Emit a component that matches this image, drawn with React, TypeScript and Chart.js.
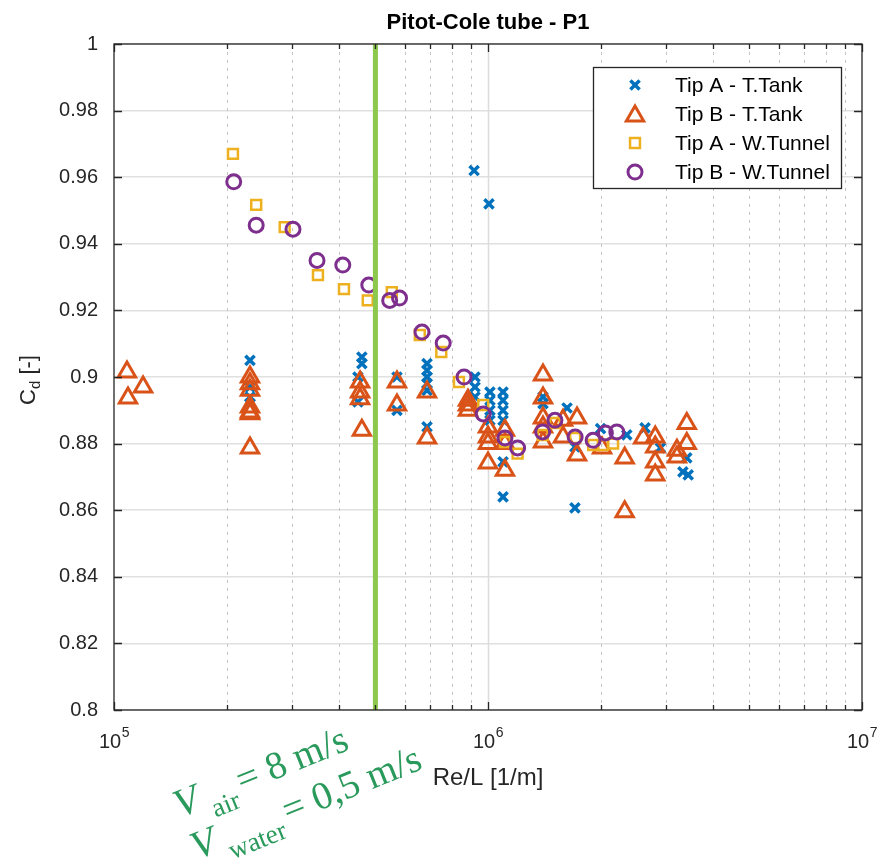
import React, { useEffect, useRef } from 'react';
import { Chart, registerables } from 'chart.js';

Chart.register(...registerables);

// ---------------- data ----------------
const tipATankRe = [
  2.31e5, 2.31e5, 2.31e5, 2.31e5,
  4.6e5, 4.6e5, 4.49e5, 4.49e5,
  5.71e5, 5.71e5,
  6.87e5, 6.87e5, 6.87e5, 6.87e5, 6.87e5, 6.87e5,
  9.18e5, 1.006e6,
  9.23e5, 9.23e5, 9.23e5,
  1.012e6, 1.012e6, 1.012e6, 1.012e6,
  1.097e6, 1.097e6, 1.097e6, 1.097e6, 1.097e6, 1.097e6,
  1.403e6, 1.403e6, 1.627e6, 1.708e6, 1.708e6,
  2.0e6, 2.35e6, 2.63e6, 2.89e6, 3.32e6, 3.43e6, 3.4e6,
];
const tipATankCd = [
  0.905, 0.897, 0.894, 0.892,
  0.906, 0.904, 0.9, 0.8925,
  0.9, 0.89,
  0.904, 0.902, 0.9, 0.898, 0.896, 0.885,
  0.962, 0.952,
  0.9, 0.897, 0.894,
  0.8955, 0.893, 0.89, 0.887,
  0.8955, 0.893, 0.89, 0.887, 0.8745, 0.864,
  0.894, 0.892, 0.8907, 0.879, 0.8607,
  0.8845, 0.8826, 0.8847, 0.8787, 0.8715, 0.8706, 0.8757,
];

const tipBTankRe = [
  1.083e5, 1.09e5, 1.196e5,
  2.31e5, 2.31e5, 2.31e5, 2.31e5, 2.31e5, 2.31e5, 2.31e5,
  4.55e5, 4.55e5, 4.55e5, 4.6e5,
  5.71e5, 5.71e5,
  6.87e5, 6.87e5,
  8.84e5, 8.84e5, 8.84e5,
  1.0e6, 1.0e6, 1.0e6, 1.0e6,
  1.11e6, 1.11e6, 1.11e6,
  1.403e6, 1.403e6, 1.403e6, 1.403e6, 1.403e6,
  1.587e6, 1.587e6, 1.73e6, 1.73e6,
  2.018e6, 2.32e6, 2.32e6, 2.6e6,
  2.8e6, 2.8e6, 2.8e6, 2.8e6,
  3.2e6, 3.2e6, 3.4e6, 3.4e6,
];
const tipBTankCd = [
  0.9015, 0.8937, 0.897,
  0.9, 0.898, 0.896, 0.891, 0.8895, 0.889, 0.8787,
  0.8985, 0.8955, 0.8935, 0.884,
  0.8985, 0.8916,
  0.8955, 0.8817,
  0.8916, 0.893, 0.89,
  0.885, 0.882, 0.88, 0.8742,
  0.884, 0.88, 0.872,
  0.9006, 0.8937, 0.8877, 0.885, 0.8805,
  0.887, 0.882, 0.8877, 0.8766,
  0.8787, 0.8757, 0.8595, 0.8817,
  0.882, 0.879, 0.8745, 0.8706,
  0.878, 0.876, 0.886, 0.88,
];

const tipATunnelRe = [
  2.08e5, 2.4e5, 2.86e5, 3.51e5, 4.12e5, 4.77e5, 5.53e5, 6.57e5, 7.5e5, 8.36e5,
  9.71e5, 1.11e6, 1.2e6, 1.4e6, 1.51e6, 1.71e6, 1.91e6, 2.03e6, 2.16e6,
];
const tipATunnelCd = [
  0.967, 0.9517, 0.945, 0.9306, 0.9264, 0.923, 0.9255, 0.9126, 0.9075, 0.8985,
  0.8916, 0.8805, 0.877, 0.8826, 0.8862, 0.8817, 0.8796, 0.8796, 0.88,
];

const tipBTunnelRe = [
  2.09e5, 2.4e5, 3.01e5, 3.49e5, 4.09e5, 4.8e5, 5.46e5, 5.8e5, 6.66e5, 7.59e5,
  8.63e5, 9.71e5, 1.11e6, 1.2e6, 1.4e6, 1.51e6, 1.71e6, 1.91e6, 2.06e6, 2.21e6,
];
const tipBTunnelCd = [
  0.9586, 0.9456, 0.9444, 0.935, 0.9336, 0.9276, 0.923, 0.9237, 0.9135, 0.9102,
  0.9, 0.8889, 0.8817, 0.8787, 0.8835, 0.887, 0.882, 0.881, 0.8832, 0.8835,
];

const markerLineRe = [5e5, 5e5];
const markerLineCd = [0.8, 1];

const yTicks = [0.8, 0.82, 0.84, 0.86, 0.88, 0.9, 0.92, 0.94, 0.96, 0.98, 1];
const yTickLabels = ['0.8', '0.82', '0.84', '0.86', '0.88', '0.9', '0.92', '0.94', '0.96', '0.98', '1'];
const xMajorTicks = [1e5, 1e6, 1e7];
const xMajorExponents = ['5', '6', '7'];
const xMinorMultipliers = [2, 3, 4, 5, 6, 7, 8, 9];

const seriesLabels = ['Tip A - T.Tank', 'Tip B - T.Tank', 'Tip A - W.Tunnel', 'Tip B - W.Tunnel'];
const titleText = 'Pitot-Cole tube - P1';
const xLabelText = 'Re/L [1/m]';
const yLabelMain = 'C';
const yLabelSub = 'd';
const yLabelRest = ' [-]';
const note1 = { v: 'V', sub: 'air', rest: '= 8 m/s' };
const note2 = { v: 'V', sub: 'water', rest: '= 0,5 m/s' };

// ---------------- styles ----------------
const SANS = '"Liberation Sans", Arial, Helvetica, sans-serif';
const SERIF = '"Liberation Serif", "Times New Roman", serif';
const AX = '#262626';
const C_BLUE = '#0072BD';
const C_ORANGE = '#D95319';
const C_YELLOW = '#EDB120';
const C_PURPLE = '#7E2F8E';
const C_GREEN = '#8cc84b';
const C_NOTE = '#2a9a5c';

const markerDefs = [
  { style: 'crossRot', color: C_BLUE, r: 6.5, lw: 3.5 },
  { style: 'triangle', color: C_ORANGE, r: 10, lw: 3 },
  { style: 'rect', color: C_YELLOW, r: 7, lw: 2.5 },
  { style: 'circle', color: C_PURPLE, r: 7, lw: 3 },
];

function drawMarker(ctx: CanvasRenderingContext2D, style: string, x: number, y: number, r: number, color: string, lw: number) {
  ctx.save();
  ctx.strokeStyle = color;
  ctx.lineWidth = lw;
  ctx.setLineDash([]);
  ctx.beginPath();
  if (style === 'crossRot') {
    const o = r * Math.SQRT1_2;
    ctx.moveTo(x - o, y - o); ctx.lineTo(x + o, y + o);
    ctx.moveTo(x + o, y - o); ctx.lineTo(x - o, y + o);
  } else if (style === 'triangle') {
    for (let k = 0; k < 3; k++) {
      const a = (k * 2 * Math.PI) / 3;
      const px = x + Math.sin(a) * r;
      const py = y - Math.cos(a) * r;
      if (k === 0) ctx.moveTo(px, py); else ctx.lineTo(px, py);
    }
    ctx.closePath();
  } else if (style === 'rect') {
    const s = r * Math.SQRT1_2;
    ctx.rect(x - s, y - s, 2 * s, 2 * s);
  } else {
    ctx.arc(x, y, r, 0, Math.PI * 2);
  }
  ctx.stroke();
  ctx.restore();
}

function drawNote(ctx: CanvasRenderingContext2D, x: number, y: number, n: { v: string; sub: string; rest: string }) {
  ctx.save();
  ctx.translate(x, y);
  ctx.rotate((-22 * Math.PI) / 180);
  ctx.fillStyle = C_NOTE;
  ctx.textBaseline = 'alphabetic';
  ctx.textAlign = 'left';
  ctx.font = `italic 40px ${SERIF}`;
  ctx.fillText(n.v, 0, 0);
  let adv = ctx.measureText(n.v).width + 9;
  ctx.font = `27px ${SERIF}`;
  ctx.fillText(n.sub, adv, 13);
  adv += ctx.measureText(n.sub).width + 5;
  ctx.font = `39px ${SERIF}`;
  ctx.fillText(n.rest, adv, 0);
  ctx.restore();
}

const decorPlugin = {
  id: 'matlabDecor',
  beforeDatasetsDraw(chart: any) {
    const { ctx, chartArea: ca } = chart;
    const xs = chart.scales.x;
    ctx.save();
    for (let i = 0; i < xMajorTicks.length; i++) {
      const base = xMajorTicks[i];
      const px0 = Math.round(xs.getPixelForValue(base)) + 0.5;
      if (px0 > ca.left + 2 && px0 < ca.right - 2) {
        ctx.setLineDash([]);
        ctx.strokeStyle = '#dcdcdc';
        ctx.lineWidth = 1.5;
        ctx.beginPath(); ctx.moveTo(px0, ca.top); ctx.lineTo(px0, ca.bottom); ctx.stroke();
      }
      if (i === xMajorTicks.length - 1) continue;
      for (const m of xMinorMultipliers) {
        const px = Math.round(xs.getPixelForValue(base * m)) + 0.5;
        ctx.setLineDash([3, 5]);
        ctx.strokeStyle = '#c4c4c4';
        ctx.lineWidth = 1;
        ctx.beginPath(); ctx.moveTo(px, ca.top); ctx.lineTo(px, ca.bottom); ctx.stroke();
      }
    }
    ctx.restore();
  },
  afterDraw(chart: any) {
    const { ctx, chartArea: ca } = chart;
    const xs = chart.scales.x;
    const ys = chart.scales.y;
    ctx.save();
    ctx.setLineDash([]);
    // box
    ctx.strokeStyle = AX;
    ctx.lineWidth = 1.3;
    ctx.strokeRect(ca.left, ca.top, ca.right - ca.left, ca.bottom - ca.top);
    // y ticks
    ctx.beginPath();
    for (const v of yTicks) {
      const py = Math.round(ys.getPixelForValue(v)) + 0.5;
      ctx.moveTo(ca.left, py); ctx.lineTo(ca.left + 8, py);
      ctx.moveTo(ca.right, py); ctx.lineTo(ca.right - 8, py);
    }
    // x ticks
    for (let i = 0; i < xMajorTicks.length; i++) {
      const base = xMajorTicks[i];
      const px0 = Math.round(xs.getPixelForValue(base)) + 0.5;
      ctx.moveTo(px0, ca.bottom); ctx.lineTo(px0, ca.bottom - 8);
      ctx.moveTo(px0, ca.top); ctx.lineTo(px0, ca.top + 8);
      if (i === xMajorTicks.length - 1) continue;
      for (const m of xMinorMultipliers) {
        const px = Math.round(xs.getPixelForValue(base * m)) + 0.5;
        ctx.moveTo(px, ca.bottom); ctx.lineTo(px, ca.bottom - 5);
        ctx.moveTo(px, ca.top); ctx.lineTo(px, ca.top + 5);
      }
    }
    ctx.stroke();

    // x tick labels 10^n
    ctx.fillStyle = AX;
    ctx.textBaseline = 'alphabetic';
    ctx.textAlign = 'left';
    for (let i = 0; i < xMajorTicks.length; i++) {
      const px = xs.getPixelForValue(xMajorTicks[i]);
      ctx.font = `20px ${SANS}`;
      const w1 = ctx.measureText('10').width;
      ctx.font = `14px ${SANS}`;
      const w2 = ctx.measureText(xMajorExponents[i]).width;
      const start = px - (w1 + w2) / 2;
      ctx.font = `20px ${SANS}`;
      ctx.fillText('10', start, 748);
      ctx.font = `14px ${SANS}`;
      ctx.fillText(xMajorExponents[i], start + w1 + 0.5, 737);
    }

    // x label
    ctx.font = `24px ${SANS}`;
    ctx.textAlign = 'center';
    ctx.textBaseline = 'middle';
    ctx.fillText(xLabelText, (ca.left + ca.right) / 2, 778);

    // y label
    ctx.save();
    ctx.translate(35, (ca.top + ca.bottom) / 2 + 3);
    ctx.rotate(-Math.PI / 2);
    ctx.textAlign = 'left';
    ctx.textBaseline = 'alphabetic';
    ctx.font = `22px ${SANS}`;
    const wc = ctx.measureText(yLabelMain).width;
    const wr = ctx.measureText(yLabelRest).width;
    ctx.font = `15px ${SANS}`;
    const wd = ctx.measureText(yLabelSub).width;
    let sx = -(wc + wd + wr) / 2;
    ctx.font = `22px ${SANS}`;
    ctx.fillText(yLabelMain, sx, 0);
    sx += wc;
    ctx.font = `15px ${SANS}`;
    ctx.fillText(yLabelSub, sx, 5);
    sx += wd;
    ctx.font = `22px ${SANS}`;
    ctx.fillText(yLabelRest, sx, 0);
    ctx.restore();

    // title
    ctx.fillStyle = '#000';
    ctx.font = `bold 22px ${SANS}`;
    ctx.textAlign = 'center';
    ctx.textBaseline = 'alphabetic';
    ctx.fillText(titleText, (ca.left + ca.right) / 2, 29);

    // legend
    const lx = 593.5, ly = 67.5, lw = 248, lh = 121;
    ctx.fillStyle = '#fff';
    ctx.fillRect(lx, ly, lw, lh);
    ctx.strokeStyle = AX;
    ctx.lineWidth = 1.3;
    ctx.strokeRect(lx, ly, lw, lh);
    ctx.font = `21px ${SANS}`;
    ctx.textAlign = 'left';
    ctx.textBaseline = 'middle';
    for (let i = 0; i < seriesLabels.length; i++) {
      const ry = 85 + i * 29;
      const md = markerDefs[i];
      drawMarker(ctx, md.style, 635, ry + (md.style === 'triangle' ? 2 : 0), md.r, md.color, md.lw);
      ctx.fillStyle = '#000';
      ctx.fillText(seriesLabels[i], 675, ry + 1);
    }

    // annotation
    drawNote(ctx, 180, 818, note1);
    drawNote(ctx, 197, 860, note2);
    ctx.restore();
  },
};

function pts(xs: number[], ys: number[]) {
  return xs.map((x, i) => ({ x, y: ys[i] }));
}

export default function App() {
  const ref = useRef<HTMLCanvasElement | null>(null);
  useEffect(() => {
    if (!ref.current) return;
    const mk = (i: number) => ({
      pointStyle: markerDefs[i].style,
      pointRadius: markerDefs[i].r,
      pointBorderWidth: markerDefs[i].lw,
      pointBorderColor: markerDefs[i].color,
      pointBackgroundColor: 'rgba(0,0,0,0)',
      borderColor: markerDefs[i].color,
      backgroundColor: 'rgba(0,0,0,0)',
    });
    const chart = new Chart(ref.current, {
      type: 'scatter',
      data: {
        datasets: [
          { label: 'Vline', data: pts(markerLineRe, markerLineCd), showLine: true, borderColor: C_GREEN, borderWidth: 5, pointRadius: 0, order: 0 } as any,
          { label: seriesLabels[3], data: pts(tipBTunnelRe, tipBTunnelCd), order: 1, ...mk(3) },
          { label: seriesLabels[2], data: pts(tipATunnelRe, tipATunnelCd), order: 2, ...mk(2) },
          { label: seriesLabels[1], data: pts(tipBTankRe, tipBTankCd), order: 3, ...mk(1) },
          { label: seriesLabels[0], data: pts(tipATankRe, tipATankCd), order: 4, ...mk(0) },
        ],
      },
      options: {
        responsive: false,
        animation: false,
        events: [],
        layout: { padding: { left: 0, right: 19, top: 44, bottom: 0 } },
        plugins: { legend: { display: false }, tooltip: { enabled: false }, title: { display: false } },
        scales: {
          x: {
            type: 'logarithmic',
            min: xMajorTicks[0],
            max: xMajorTicks[xMajorTicks.length - 1],
            grid: { display: false },
            border: { display: false },
            ticks: { display: false },
            afterFit: (s: any) => { s.height = 152; },
          },
          y: {
            type: 'linear',
            min: yTicks[0],
            max: yTicks[yTicks.length - 1],
            afterBuildTicks: (s: any) => { s.ticks = yTicks.map((v) => ({ value: v })); },
            ticks: {
              padding: 16,
              color: AX,
              font: { family: SANS, size: 20 },
              callback: (_v: any, i: number) => yTickLabels[i],
            },
            grid: { color: '#e0e0e0', lineWidth: 1.5, drawTicks: false },
            border: { display: false },
            afterFit: (s: any) => { s.width = 114; },
          },
        },
      },
      plugins: [decorPlugin],
    } as any);
    return () => chart.destroy();
  }, []);
  return (
    <div style={{ position: 'absolute', left: 0, top: 0, width: 881, height: 862, background: '#fff' }}>
      <canvas ref={ref} width={881} height={862} style={{ display: 'block' }} />
    </div>
  );
}
